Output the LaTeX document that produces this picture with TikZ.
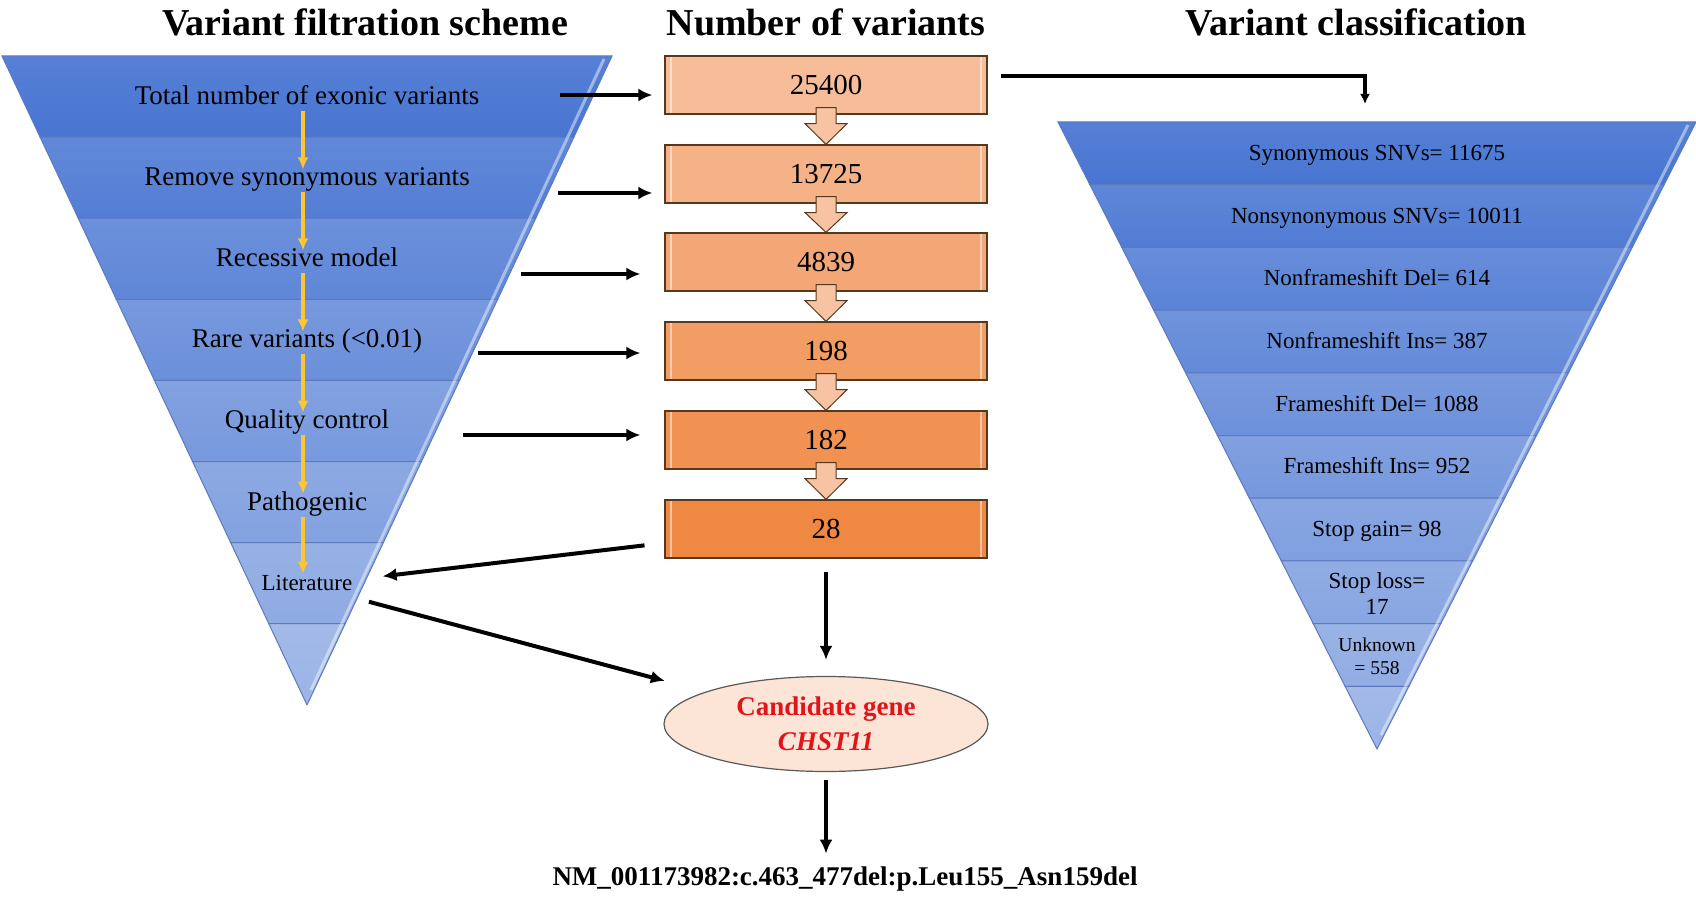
\documentclass[tikz,border=0pt]{standalone}
\usepackage{fontspec}
\setmainfont{Liberation Serif}
\usetikzlibrary{arrows.meta,shapes.geometric}

\definecolor{bluedark}{RGB}{72,117,210}
\definecolor{bluelight}{RGB}{155,180,230}
\definecolor{bandline}{RGB}{92,122,190}
\definecolor{peachlight}{RGB}{247,188,152}
\definecolor{peachdark}{RGB}{239,136,66}
\definecolor{eggfill}{RGB}{252,228,214}
\definecolor{goldarrow}{RGB}{252,198,50}
\definecolor{genered}{RGB}{225,20,25}

\begin{document}
\begin{tikzpicture}[x=0.5pt, y=-0.5pt,
    title/.style={font=\fontsize{19}{22}\selectfont\bfseries},
    lbl/.style={font=\fontsize{13.5}{16}\selectfont, text height=0.7em, text depth=0.2em, inner sep=1pt},
    clbl/.style={font=\fontsize{11.5}{13}\selectfont, text height=0.7em, text depth=0.2em, inner sep=1pt},
    band/.style={draw=bandline, line width=0.5pt},
    edgelight/.style={white, opacity=0.45, line width=1.5pt},
    numbox/.style={draw=black!55!brown, line width=0.6pt, minimum width=161pt, minimum height=29pt,
        font=\fontsize{14.5}{17}\selectfont,
        path picture={\draw[white, opacity=0.5, line width=1.2pt]
            ([xshift=3pt]path picture bounding box.south west) -- ([xshift=3pt]path picture bounding box.north west)
            ([xshift=-3pt]path picture bounding box.south east) -- ([xshift=-3pt]path picture bounding box.north east);}},
    blockarrow/.style={draw=black!55!brown, line width=0.5pt, fill=peachlight!90!white},
    arrow/.style={-{Latex[length=7pt,width=6.5pt]}, line width=2pt},
    gold/.style={-{Latex[length=6pt,width=5.5pt]}, line width=1.8pt, goldarrow}
]
\useasboundingbox (0,0) rectangle (1696,898);

% Titles
\node[title] (tfilter) at (365,22) {Variant filtration scheme};
\node[title] (tcount) at (826,22) {Number of variants};
\node[title] (tclass) at (1356,22) {Variant classification};

% Filtration funnel
\foreach \k in {1,...,8} {
  \pgfmathsetmacro\ya{56+81.1*(\k-1)}
  \pgfmathsetmacro\yb{56+81.1*\k}
  \pgfmathsetmacro\wa{0.47*(705-\ya)}
  \pgfmathsetmacro\wb{max(0.47*(705-\yb),0)}
  \pgfmathtruncatemacro\p{(\k-1)*100/7}
  \shadedraw[band, top color=bluelight!\p!bluedark!92!white, bottom color=bluelight!\p!bluedark]
    (307-\wa,\ya) -- (307+\wa,\ya) -- (307+\wb,\yb) -- (307-\wb,\yb) -- cycle;
}
\draw[edgelight] (604,59) -- (311,690);

\node[lbl] (total) at (307,99.6) {Total number of exonic variants};
\node[lbl] (remove) at (307,180.7) {Remove synonymous variants};
\node[lbl] (recessive) at (307,261.8) {Recessive model};
\node[lbl] (rarevar) at (307,342.9) {Rare variants (<0.01)};
\node[lbl] (quality) at (307,424) {Quality control};
\node[lbl] (pathogenic) at (307,505.1) {Pathogenic};
\node[clbl] (literature) at (307,585.2) {Literature};

\foreach \a/\b in {total/remove, remove/recessive, recessive/rarevar, rarevar/quality, quality/pathogenic, pathogenic/literature}
  \draw[gold] ([xshift=-2pt]\a.south) -- ([xshift=-2pt]\b.north);

% Classification funnel
\foreach \k in {1,...,10} {
  \pgfmathsetmacro\ya{122+62.7*(\k-1)}
  \pgfmathsetmacro\yb{122+62.7*\k}
  \pgfmathsetmacro\wa{0.5088*(749-\ya)}
  \pgfmathsetmacro\wb{max(0.5088*(749-\yb),0)}
  \pgfmathtruncatemacro\p{(\k-1)*100/9}
  \shadedraw[band, top color=bluelight!\p!bluedark!92!white, bottom color=bluelight!\p!bluedark]
    (1377-\wa,\ya) -- (1377+\wa,\ya) -- (1377+\wb,\yb) -- (1377-\wb,\yb) -- cycle;
}
\draw[edgelight] (1688,125) -- (1381,735);

\node[clbl] (syn) at (1377,155.4) {Synonymous SNVs= 11675};
\node[clbl] (nonsyn) at (1377,218.1) {Nonsynonymous SNVs= 10011};
\node[clbl] (nfdel) at (1377,280.8) {Nonframeshift Del= 614};
\node[clbl] (nfins) at (1377,343.5) {Nonframeshift Ins= 387};
\node[clbl] (fdel) at (1377,406.2) {Frameshift Del= 1088};
\node[clbl] (fins) at (1377,468.9) {Frameshift Ins= 952};
\node[clbl] (stopgain) at (1377,531.6) {Stop gain= 98};
\node[font=\fontsize{11.5}{13}\selectfont, align=center, inner sep=0pt] (stoploss) at (1377,593.3) {Stop loss=\\17};
\node[font=\fontsize{9.8}{11.5}\selectfont, align=center, inner sep=0pt] (unknown) at (1377,656) {Unknown\\= 558};

% Number of variants
\node[numbox, fill=peachlight] (n25400) at (826,85) {25400};
\node[numbox, fill=peachdark!20!peachlight] (n13725) at (826,174) {13725};
\node[numbox, fill=peachdark!40!peachlight] (n4839) at (826,262) {4839};
\node[numbox, fill=peachdark!60!peachlight] (n198) at (826,351) {198};
\node[numbox, fill=peachdark!80!peachlight] (n182) at (826,440) {182};
\node[numbox, fill=peachdark] (n28) at (826,529) {28};

\foreach \a/\b in {n25400/n13725, n13725/n4839, n4839/n198, n198/n182, n182/n28}
  \filldraw[blockarrow] ([xshift=-5pt,yshift=3.5pt]\a.south) -- ([xshift=-5pt,yshift=-4.5pt]\a.south)
    -- ([xshift=-10.5pt,yshift=-4.5pt]\a.south) -- (\b.north) -- ([xshift=10.5pt,yshift=-4.5pt]\a.south)
    -- ([xshift=5pt,yshift=-4.5pt]\a.south) -- ([xshift=5pt,yshift=3.5pt]\a.south) -- cycle;

% Candidate gene
\node[ellipse, draw=black!65, line width=0.6pt, fill=eggfill, minimum width=162pt, minimum height=47.5pt,
      inner sep=0pt, align=center, text=genered, font=\fontsize{13.5}{17.3}\selectfont\bfseries] (gene) at (826,724)
      {Candidate gene\\\textit{CHST11}};
\node[font=\fontsize{13.5}{16}\selectfont\bfseries] (variant) at (845,879)
      {NM\_001173982:c.463\_477del:p.Leu155\_Asn159del};

% Arrows
\coordinate (s1) at (560,95);
\coordinate (s2) at (558,193);
\coordinate (s3) at (521,274);
\coordinate (s4) at (478,353);
\coordinate (s5) at (463,435);
\coordinate (clsin) at (1365,104);
\draw[arrow, shorten >=6pt] (s1) -- (s1 -| n25400.west);
\draw[arrow, shorten >=6pt] (s2) -- (s2 -| n13725.west);
\draw[arrow, shorten >=12pt] (s3) -- (s3 -| n4839.west);
\draw[arrow, shorten >=12pt] (s4) -- (s4 -| n198.west);
\draw[arrow, shorten >=12pt] (s5) -- (s5 -| n182.west);
\draw[arrow, shorten <=10pt, shorten >=14pt] ([yshift=-7pt]n28.west) -- (literature);
\draw[arrow, shorten <=10pt, shorten >=21pt] (literature) -- (gene);
\draw[arrow, shorten <=6.5pt, shorten >=8pt] (n28) -- (gene);
\draw[arrow, shorten <=4pt, shorten >=3pt] (gene) -- (gene |- variant.north);
\draw[-{Latex[length=5pt,width=5pt]}, line width=2pt] ([xshift=6.5pt,yshift=4.5pt]n25400.east) -| (clsin);

\end{tikzpicture}
\end{document}
